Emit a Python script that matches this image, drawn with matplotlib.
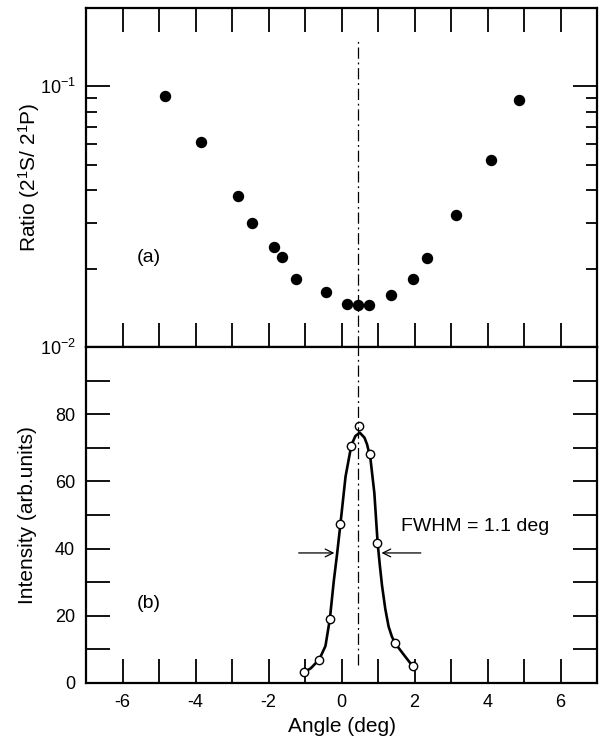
import matplotlib
matplotlib.use("Agg")
import matplotlib.pyplot as plt
from matplotlib.ticker import FixedLocator, NullFormatter, FixedFormatter

plt.rcParams['font.family'] = ['Liberation Sans', 'DejaVu Sans']
plt.rcParams['mathtext.fontset'] = 'custom'
plt.rcParams['mathtext.rm'] = 'Liberation Sans'
plt.rcParams['mathtext.it'] = 'Liberation Sans'
plt.rcParams['mathtext.default'] = 'regular'

# (a) ratio 2^1S / 2^1P against angle
ratio_angle = [-4.84, -3.84, -2.84, -2.44, -1.84, -1.63, -1.25, -0.43,
               0.16, 0.45, 0.75, 1.36, 1.95, 2.35, 3.15, 4.09, 4.87]
ratio_val = [0.092, 0.061, 0.038, 0.030, 0.0242, 0.0222, 0.0182, 0.0163,
             0.0146, 0.0145, 0.0145, 0.0159, 0.0183, 0.0219, 0.0322, 0.0523, 0.0888]

# (b) intensity, measured points
int_angle = [-1.02, -0.61, -0.31, -0.03, 0.26, 0.47, 0.79, 0.97, 1.47, 1.95]
int_val = [3.2, 6.8, 19.0, 47.2, 70.6, 76.4, 68.2, 41.6, 12.0, 5.1]

# (b) drawn curve
curve_angle = [-1.02, -0.84, -0.61, -0.44, -0.32, -0.21, -0.12, -0.03, 0.11,
               0.27, 0.38, 0.50, 0.63, 0.70, 0.79, 0.90, 0.99, 1.05, 1.11, 1.20,
               1.29, 1.38, 1.47, 1.70, 1.95]
curve_val = [3.2, 4.4, 7.0, 11.0, 19.0, 30.5, 38.5, 47.3, 61.4,
             70.8, 73.5, 74.5, 73.0, 71.0, 67.0, 56.5, 41.6, 35.0, 29.0, 22.0,
             16.8, 13.8, 11.8, 8.5, 5.0]

center = 0.45
half_level = 38.7
left_arrow = (-1.25, -0.12)
right_arrow = (2.25, 1.02)

x_ticks = list(range(-6, 7))
x_labels = [str(t) if t % 2 == 0 else "" for t in x_ticks]

fig = plt.figure(figsize=(6.02, 7.47), dpi=100)
ax1 = fig.add_axes([0.1429, 0.5355, 0.8488, 0.4538])
ax2 = fig.add_axes([0.1429, 0.0857, 0.8488, 0.4498])

for ax in (ax1, ax2):
    for s in ax.spines.values():
        s.set_linewidth(1.6)

# top panel
ax1.set_yscale('log')
ax1.plot(ratio_angle, ratio_val, 'o', color='black', markersize=7.2)
ax1.axvline(center, ymin=0, ymax=0.912, color='black', lw=0.9, linestyle=(0, (9, 3, 1.5, 3)))
ax1.set_xlim(-7, 7)
ax1.set_ylim(0.01, 0.2)
ax1.set_xticks(x_ticks)
ax1.tick_params(axis='x', direction='in', top=True, bottom=True, labelbottom=False,
                length=17, width=1.3)
ax1.yaxis.set_major_locator(FixedLocator([0.01, 0.1]))
ax1.yaxis.set_major_formatter(FixedFormatter(["10$^{-2}$", "10$^{-1}$"]))
ax1.yaxis.set_minor_locator(FixedLocator([0.02, 0.03, 0.04, 0.05, 0.06, 0.07, 0.08, 0.09]))
ax1.yaxis.set_minor_formatter(NullFormatter())
ax1.tick_params(axis='y', which='major', direction='in', left=True, right=True,
                length=17, width=1.3, labelsize=13, pad=7)
ax1.tick_params(axis='y', which='minor', direction='in', left=True, right=True,
                length=8, width=1.3)
ax1.set_ylabel("Ratio (2$^1$S/ 2$^1$P)", fontsize=15)
ax1.yaxis.set_label_coords(-0.086, 0.5)
ax1.text(-5.27, 0.022, "(a)", fontsize=14, ha='center', va='center')

# bottom panel
ax2.plot(curve_angle, curve_val, '-', color='black', lw=1.9)
ax2.plot(int_angle, int_val, 'o', markerfacecolor='white', markeredgecolor='black',
         markersize=6, markeredgewidth=1.0)
ax2.axvline(center, ymin=0.054, ymax=1, color='black', lw=0.9, linestyle=(0, (9, 3, 1.5, 3)))
ax2.annotate("", xy=(left_arrow[1], half_level), xytext=(left_arrow[0], half_level),
             arrowprops=dict(arrowstyle='->', color='black', lw=0.9, mutation_scale=14))
ax2.annotate("", xy=(right_arrow[1], half_level), xytext=(right_arrow[0], half_level),
             arrowprops=dict(arrowstyle='->', color='black', lw=0.9, mutation_scale=14))
ax2.text(1.62, 46.5, "FWHM = 1.1 deg", fontsize=14, ha='left', va='center')
ax2.text(-5.27, 23.7, "(b)", fontsize=14, ha='center', va='center')
ax2.set_xlim(-7, 7)
ax2.set_ylim(0, 100)
ax2.set_xticks(x_ticks)
ax2.set_xticklabels(x_labels)
ax2.set_yticks(range(0, 100, 10))
ax2.set_yticklabels([str(v) if v % 20 == 0 else "" for v in range(0, 100, 10)])
ax2.tick_params(axis='x', direction='in', top=False, bottom=True, length=17, width=1.3,
                labelsize=13, pad=8)
ax2.tick_params(axis='y', direction='in', left=True, right=True, length=17, width=1.3,
                labelsize=13, pad=8)
ax2.set_xlabel("Angle (deg)", fontsize=15, labelpad=4)
ax2.set_ylabel("Intensity (arb.units)", fontsize=15)
ax2.yaxis.set_label_coords(-0.096, 0.5)

fig.savefig("out.png", dpi=100)
